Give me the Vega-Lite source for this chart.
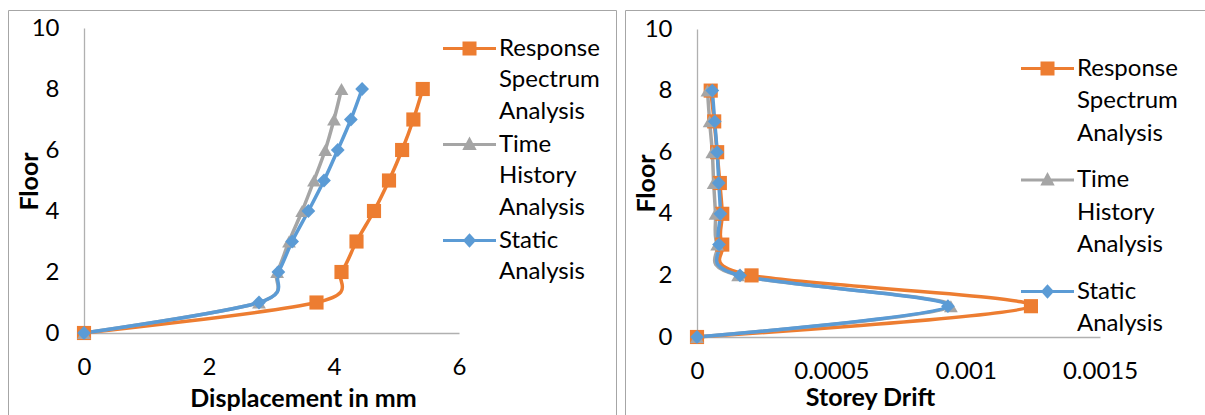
{
  "$schema": "https://vega.github.io/schema/vega-lite/v6.json",
  "padding": {"left": 7, "top": 9, "right": 0, "bottom": 0},
  "spacing": 7,
  "config": {
    "font": "Lato",
    "view": {"stroke": "#A6A6A6", "strokeWidth": 1},
    "axis": {"grid": false, "ticks": false, "domainColor": "#B0B0B0", "domainWidth": 1.3, "labelFont": "Lato", "labelFontSize": 24, "labelColor": "#000000", "titleFont": "Lato", "titleFontSize": 25, "titleFontWeight": "bold", "titleColor": "#000000", "labelPadding": 25, "titleBaseline": "middle", "titleAlign": "center"},
    "axisX": {"labelAlign": "center", "labelFlush": false, "labelPadding": 22},
    "legend": {"labelFont": "Lato", "labelColor": "#000000", "labelFontSize": 24, "labelLimit": 0, "padding": 0, "title": null}
  },
  "resolve": {"scale": {"x": "independent", "y": "independent", "color": "independent"}, "legend": {"color": "independent"}},
  "data": {"values": [
    {"series": "Response Spectrum Analysis", "floor": 0, "disp": 0, "drift": 0},
    {"series": "Response Spectrum Analysis", "floor": 1, "disp": 3.72, "drift": 0.001243},
    {"series": "Response Spectrum Analysis", "floor": 2, "disp": 4.12, "drift": 0.000203},
    {"series": "Response Spectrum Analysis", "floor": 3, "disp": 4.36, "drift": 0.000094},
    {"series": "Response Spectrum Analysis", "floor": 4, "disp": 4.64, "drift": 0.000094},
    {"series": "Response Spectrum Analysis", "floor": 5, "disp": 4.88, "drift": 0.000085},
    {"series": "Response Spectrum Analysis", "floor": 6, "disp": 5.09, "drift": 0.000075},
    {"series": "Response Spectrum Analysis", "floor": 7, "disp": 5.27, "drift": 0.000064},
    {"series": "Response Spectrum Analysis", "floor": 8, "disp": 5.42, "drift": 0.000051},
    {"series": "Time History Analysis", "floor": 0, "disp": 0, "drift": 0},
    {"series": "Time History Analysis", "floor": 1, "disp": 2.8, "drift": 0.000945},
    {"series": "Time History Analysis", "floor": 2, "disp": 3.09, "drift": 0.000153},
    {"series": "Time History Analysis", "floor": 3, "disp": 3.28, "drift": 0.000075},
    {"series": "Time History Analysis", "floor": 4, "disp": 3.49, "drift": 0.000069},
    {"series": "Time History Analysis", "floor": 5, "disp": 3.68, "drift": 0.000062},
    {"series": "Time History Analysis", "floor": 6, "disp": 3.86, "drift": 0.000057},
    {"series": "Time History Analysis", "floor": 7, "disp": 4.0, "drift": 0.000047},
    {"series": "Time History Analysis", "floor": 8, "disp": 4.12, "drift": 0.000039},
    {"series": "Static Analysis", "floor": 0, "disp": 0, "drift": 0},
    {"series": "Static Analysis", "floor": 1, "disp": 2.8, "drift": 0.000934},
    {"series": "Static Analysis", "floor": 2, "disp": 3.11, "drift": 0.00016},
    {"series": "Static Analysis", "floor": 3, "disp": 3.33, "drift": 0.000082},
    {"series": "Static Analysis", "floor": 4, "disp": 3.59, "drift": 0.000087},
    {"series": "Static Analysis", "floor": 5, "disp": 3.84, "drift": 0.000081},
    {"series": "Static Analysis", "floor": 6, "disp": 4.06, "drift": 0.000075},
    {"series": "Static Analysis", "floor": 7, "disp": 4.27, "drift": 0.000066},
    {"series": "Static Analysis", "floor": 8, "disp": 4.45, "drift": 0.000057}
  ]},
  "hconcat": [
    {
      "width": 608,
      "height": 405,
      "encoding": {
        "x": {"field": "disp", "type": "quantitative", "scale": {"domain": [0, 6], "range": [76, 451], "nice": false}, "axis": {"values": [0, 2, 4, 6], "format": "d", "offset": -82, "title": "Displacement in mm", "titleX": 295, "titleY": 65}},
        "y": {"field": "floor", "type": "quantitative", "scale": {"domain": [0, 10], "range": [323, 18], "nice": false}, "axis": {"values": [0, 2, 4, 6, 8, 10], "offset": -76, "title": "Floor", "titleX": -55, "titleY": 171}},
        "color": {"field": "series", "type": "nominal", "scale": {"domain": ["Response Spectrum Analysis", "Time History Analysis", "Static Analysis"], "range": ["#ED7D31", "#A5A5A5", "#5B9BD5"]},
          "legend": {"orient": "none", "legendX": 441.5, "legendY": 18.5, "symbolSize": 1600, "labelOffset": 9.5, "rowPadding": 0, "labelBaseline": "middle", "labelExpr": "split(datum.label, ' ')",
            "encode": {
              "symbols": {"update": {
                "shape": {"signal": "datum.value == 'Response Spectrum Analysis' ? 'M-1.325,-0.08L1.325,-0.08L1.325,0.08L-1.325,0.08Z M-0.35,-0.35L0.35,-0.35L0.35,0.35L-0.35,0.35Z' : datum.value == 'Time History Analysis' ? 'M-1.325,-0.08L1.325,-0.08L1.325,0.08L-1.325,0.08Z M0,-0.4L0.36,0.27L-0.36,0.27Z' : 'M-1.325,-0.08L1.325,-0.08L1.325,0.08L-1.325,0.08Z M0,-0.36L0.33,0L0,0.36L-0.33,0Z'"},
                "fill": {"signal": "datum.value == 'Response Spectrum Analysis' ? '#ED7D31' : datum.value == 'Time History Analysis' ? '#A5A5A5' : '#5B9BD5'"},
                "fillOpacity": {"value": 1},
                "opacity": {"value": 1},
                "strokeWidth": {"value": 0}
              }},
              "labels": {"update": {"lineHeight": {"value": 31.7}}}
            }}}
      },
      "layer": [
        {"mark": {"type": "line", "interpolate": "cardinal", "strokeWidth": 3.5}, "encoding": {"order": {"field": "floor", "type": "quantitative"}}},
        {"transform": [{"filter": "datum.series == 'Response Spectrum Analysis'"}], "mark": {"type": "point", "filled": true, "opacity": 1, "size": 200, "shape": "square"}},
        {"transform": [{"filter": "datum.series == 'Time History Analysis'"}], "mark": {"type": "point", "filled": true, "opacity": 1, "size": 190, "shape": "triangle-up"}},
        {"transform": [{"filter": "datum.series == 'Static Analysis'"}], "mark": {"type": "point", "filled": true, "opacity": 1, "size": 190, "shape": "diamond"}}
      ]
    },
    {
      "width": 582,
      "height": 405,
      "encoding": {
        "x": {"field": "drift", "type": "quantitative", "scale": {"domain": [0, 0.0015], "range": [72, 475], "nice": false}, "axis": {"values": [0, 0.0005, 0.001, 0.0015], "format": "~g", "offset": -78, "title": "Storey Drift", "titleX": 245, "titleY": 60}},
        "y": {"field": "floor", "type": "quantitative", "scale": {"domain": [0, 10], "range": [327, 19], "nice": false}, "axis": {"values": [0, 2, 4, 6, 8, 10], "offset": -72, "title": "Floor", "titleX": -51, "titleY": 173}},
        "color": {"field": "series", "type": "nominal", "scale": {"domain": ["Response Spectrum Analysis", "Time History Analysis", "Static Analysis"], "range": ["#ED7D31", "#A5A5A5", "#5B9BD5"]},
          "legend": {"orient": "none", "legendX": 402.5, "legendY": 38.5, "symbolSize": 1600, "labelOffset": 9.5, "rowPadding": 14.5, "labelBaseline": "middle", "labelExpr": "split(datum.label, ' ')",
            "encode": {
              "symbols": {"update": {
                "shape": {"signal": "datum.value == 'Response Spectrum Analysis' ? 'M-1.325,-0.08L1.325,-0.08L1.325,0.08L-1.325,0.08Z M-0.35,-0.35L0.35,-0.35L0.35,0.35L-0.35,0.35Z' : datum.value == 'Time History Analysis' ? 'M-1.325,-0.08L1.325,-0.08L1.325,0.08L-1.325,0.08Z M0,-0.4L0.36,0.27L-0.36,0.27Z' : 'M-1.325,-0.08L1.325,-0.08L1.325,0.08L-1.325,0.08Z M0,-0.36L0.33,0L0,0.36L-0.33,0Z'"},
                "fill": {"signal": "datum.value == 'Response Spectrum Analysis' ? '#ED7D31' : datum.value == 'Time History Analysis' ? '#A5A5A5' : '#5B9BD5'"},
                "fillOpacity": {"value": 1},
                "opacity": {"value": 1},
                "strokeWidth": {"value": 0}
              }},
              "labels": {"update": {"lineHeight": {"value": 32.5}}}
            }}}
      },
      "layer": [
        {"mark": {"type": "line", "interpolate": "cardinal", "strokeWidth": 3.5}, "encoding": {"order": {"field": "floor", "type": "quantitative"}}},
        {"transform": [{"filter": "datum.series == 'Response Spectrum Analysis'"}], "mark": {"type": "point", "filled": true, "opacity": 1, "size": 200, "shape": "square"}},
        {"transform": [{"filter": "datum.series == 'Time History Analysis'"}], "mark": {"type": "point", "filled": true, "opacity": 1, "size": 190, "shape": "triangle-up"}},
        {"transform": [{"filter": "datum.series == 'Static Analysis'"}], "mark": {"type": "point", "filled": true, "opacity": 1, "size": 190, "shape": "diamond"}}
      ]
    }
  ]
}
